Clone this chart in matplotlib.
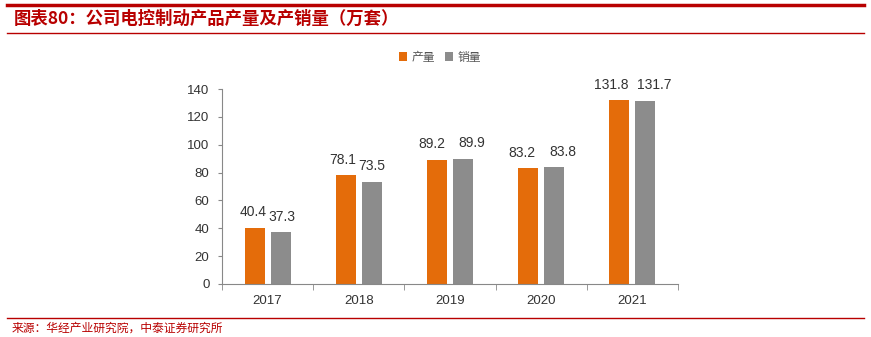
import matplotlib
matplotlib.use("Agg")
import matplotlib.pyplot as plt
from matplotlib.lines import Line2D
import numpy as np

plt.rcParams['font.family'] = ['Noto Sans CJK SC', 'DejaVu Sans']

years = ['2017', '2018', '2019', '2020', '2021']
production = [40.4, 78.1, 89.2, 83.2, 131.8]
sales = [37.3, 73.5, 89.9, 83.8, 131.7]
series_names = ['产量', '销量']
title = '图表80：公司电控制动产品产量及产销量（万套）'
source = '来源：华经产业研究院，中泰证券研究所'

orange = '#E46C0A'
gray = '#8C8C8C'
red = '#B80000'

# horizontal label nudges (points) to keep neighbouring labels apart
nudge_prod = [-1, -2, -4, -4.5, -5.5]
nudge_sales = [1, 0, 6, 6, 6.5]

fig = plt.figure(figsize=(8.71, 3.37), dpi=100)
ax = fig.add_axes([222/871, 1-284/337, (678-222)/871, (284-89)/337])

x = np.arange(len(years))
w = 0.22
off = 0.143
b1 = ax.bar(x - off, production, w, color=orange, label=series_names[0])
b2 = ax.bar(x + off, sales, w, color=gray, label=series_names[1])
for bars, vals, nud in ((b1, production, nudge_prod), (b2, sales, nudge_sales)):
    for r, v, dx in zip(bars, vals, nud):
        ax.annotate(f'{v:.1f}', (r.get_x() + r.get_width()/2, v), xytext=(dx, 6),
                    textcoords='offset points', ha='center', va='bottom',
                    fontsize=10, color='#333333', family='Liberation Sans')

ax.set_xlim(-0.5, len(years) - 0.5)
ax.set_ylim(0, 140)
ax.set_yticks(range(0, 141, 20))
ax.set_xticks(x)
ax.set_xticklabels(years)
for lab in ax.get_xticklabels() + ax.get_yticklabels():
    lab.set_family('Liberation Sans')
    lab.set_fontsize(9.5)
    lab.set_color('#333333')
for s in ['top', 'right']:
    ax.spines[s].set_visible(False)
ax.spines['left'].set_color('#888888')
ax.spines['bottom'].set_color('#888888')
ax.tick_params(axis='y', length=3, color='#888888', pad=6)
ax.tick_params(axis='x', length=0, pad=8)
ax.set_xticks(np.arange(len(years) + 1) - 0.5, minor=True)
ax.tick_params(axis='x', which='minor', length=4, color='#888888', direction='out')

leg = fig.legend(handles=[b1, b2], labels=series_names, loc='center', bbox_to_anchor=(440/871, 1-57/337),
                 ncol=2, frameon=False, fontsize=8.5, handlelength=0.7, handleheight=0.7,
                 handletextpad=0.4, columnspacing=0.8, labelcolor='#555555')

# Title and frame lines
fig.add_artist(Line2D([0.008, 0.992], [1-5/337, 1-5/337], color=red, lw=2.5))
fig.add_artist(Line2D([0.008, 0.992], [1-33/337, 1-33/337], color=red, lw=1.0))
fig.add_artist(Line2D([0.008, 0.992], [1-318/337, 1-318/337], color=red, lw=1.0))
fig.text(14/871, 1-19/337, title, color=red, fontsize=12.5, fontweight='bold', style='italic',
         va='center', ha='left')
fig.text(12/871, 1-328/337, source, color=red, fontsize=8.5, va='center', ha='left')

fig.savefig('out.png', dpi=100)
